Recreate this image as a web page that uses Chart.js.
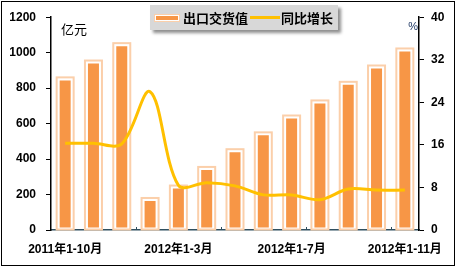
<!DOCTYPE html>
<html>
<head>
<meta charset="utf-8">
<script src="https://cdn.jsdelivr.net/npm/chart.js@4.4.1/dist/chart.umd.min.js"></script>
<style>
  html, body { margin: 0; padding: 0; background: #fff; }
  #wrap { position: relative; width: 457px; height: 268px; }
  #legend {
    position: absolute; left: 150px; top: 5px; height: 25px;
    padding: 0 5px; background: #d8d8d8; box-shadow: 3px 3px 3px #8f8f8f;
    display: flex; align-items: center;
    font: bold 13px "Liberation Sans", "Noto Sans CJK SC", sans-serif; color: #000;
  }
  #legend .item { display: flex; align-items: center; }
  #legend .bar { width: 22px; height: 4px; background: #f79646; border: 1px solid #fff; outline: 1.5px solid #fbcfaa; margin-right: 4px; }
  #legend .line { width: 30px; height: 3px; background: #ffc000; margin: 0 1px 0 2px; }
</style>
</head>
<body>
<div id="wrap">
  <canvas id="chart" width="457" height="268"></canvas>
  <div id="legend"></div>
</div>
<script>
const categories = [
  "2011年1-10月", "2011年1-11月", "2011年1-12月", "2012年1-2月", "2012年1-3月",
  "2012年1-4月", "2012年1-5月", "2012年1-6月", "2012年1-7月", "2012年1-8月",
  "2012年1-9月", "2012年1-10月", "2012年1-11月"
];
const exportValue = [855, 950, 1048, 175, 245, 350, 450, 545, 640, 725, 830, 922, 1018];
const growth = [16.3, 16.3, 16.2, 26.0, 8.4, 8.9, 8.3, 6.6, 6.6, 5.7, 7.7, 7.5, 7.5];
const leftTicks = [0, 200, 400, 600, 800, 1000, 1200];
const rightTicks = [0, 8, 16, 24, 32, 40];

const FONT = "'Liberation Sans', 'Noto Sans CJK SC', sans-serif";

// peach outline around each bar, outside the white border
const barRing = {
  id: "barRing",
  afterDatasetDraw(chart, args) {
    if (args.index !== 0) return;
    const ctx = chart.ctx;
    ctx.save();
    ctx.strokeStyle = "#fbcfaa";
    ctx.lineWidth = 2;
    args.meta.data.forEach(function (bar) {
      const w = bar.width;
      ctx.strokeRect(bar.x - w / 2 - 1, bar.y - 1, w + 2, bar.base - bar.y + 1);
    });
    ctx.restore();
  }
};

// unit labels, small inward x ticks, outer frame
const extras = {
  id: "extras",
  afterDraw(chart) {
    const ctx = chart.ctx;
    const a = chart.chartArea;
    const xs = chart.scales.x;
    ctx.save();
    ctx.fillStyle = "#000";
    ctx.textBaseline = "middle";
    ctx.font = "13px " + FONT;
    ctx.textAlign = "left";
    ctx.fillText("亿元", a.left + 10, a.top + 13);
    ctx.font = "11px " + FONT;
    ctx.textAlign = "right";
    ctx.fillStyle = "#1f3864";
    ctx.fillText("%", a.right - 1, a.top + 10);

    ctx.strokeStyle = "#2f4f5f";
    ctx.lineWidth = 1;
    const step = xs.getPixelForValue(1) - xs.getPixelForValue(0);
    for (let i = 3; i < categories.length; i += 3) {
      const px = Math.round(xs.getPixelForValue(i) - step / 2) + 0.5;
      ctx.beginPath();
      ctx.moveTo(px, a.bottom);
      ctx.lineTo(px, a.bottom - 3);
      ctx.stroke();
    }

    ctx.strokeStyle = "#000";
    ctx.strokeRect(1.5, 1.5, 453, 264);
    ctx.restore();
  }
};

const chart = new Chart(document.getElementById("chart").getContext("2d"), {
  type: "bar",
  data: {
    labels: categories,
    datasets: [
      {
        type: "bar",
        label: "出口交货值",
        data: exportValue,
        yAxisID: "y",
        backgroundColor: "#f79646",
        borderColor: "#ffffff",
        borderWidth: 2,
        borderSkipped: false,
        categoryPercentage: 1,
        barPercentage: 0.53,
        order: 1
      },
      {
        type: "line",
        label: "同比增长",
        data: growth,
        yAxisID: "y1",
        borderColor: "#ffc000",
        borderWidth: 3,
        pointRadius: 0,
        tension: 0.34,
        fill: false,
        order: 0
      }
    ]
  },
  options: {
    responsive: false,
    animation: false,
    events: [],
    layout: { padding: { top: 12, left: 0, right: 0, bottom: 0 } },
    plugins: { legend: { display: false }, tooltip: { enabled: false } },
    scales: {
      x: {
        grid: { display: false, drawTicks: false },
        border: { display: true, color: "#2f4f5f", width: 1.5 },
        afterFit: function (s) { s.height = 38; },
        ticks: {
          autoSkip: false, maxRotation: 0, padding: 12, color: "#000",
          font: { family: FONT, size: 12, weight: "bold" },
          callback: function (v, i) { return i % 4 === 0 ? categories[i] : ""; }
        }
      },
      y: {
        position: "left",
        min: leftTicks[0], max: leftTicks[leftTicks.length - 1],
        afterBuildTicks: function (s) { s.ticks = leftTicks.map(function (v) { return { value: v }; }); },
        afterFit: function (s) { s.width = 51; },
        grid: { display: true, drawOnChartArea: false, drawTicks: true, tickLength: 5, tickColor: "#000" },
        border: { display: true, color: "#000", width: 1.5 },
        ticks: {
          padding: 10, color: "#000", font: { family: FONT, size: 12, weight: "bold" },
          callback: function (v) { return String(v); }
        }
      },
      y1: {
        position: "right",
        min: rightTicks[0], max: rightTicks[rightTicks.length - 1],
        afterBuildTicks: function (s) { s.ticks = rightTicks.map(function (v) { return { value: v }; }); },
        afterFit: function (s) { s.width = 38; },
        grid: { display: true, drawOnChartArea: false, drawTicks: true, tickLength: 5, tickColor: "#000" },
        border: { display: true, color: "#000", width: 1.5 },
        ticks: {
          padding: 7, color: "#000", font: { family: FONT, size: 12, weight: "bold" },
          callback: function (v) { return String(v); }
        }
      }
    }
  },
  plugins: [barRing, extras]
});

// html legend built from the datasets
const legend = document.getElementById("legend");
chart.data.datasets.forEach(function (ds) {
  const item = document.createElement("span");
  item.className = "item";
  const sw = document.createElement("span");
  sw.className = ds.type === "line" ? "line" : "bar";
  item.appendChild(sw);
  item.appendChild(document.createTextNode(ds.label));
  legend.appendChild(item);
});
</script>
</body>
</html>
